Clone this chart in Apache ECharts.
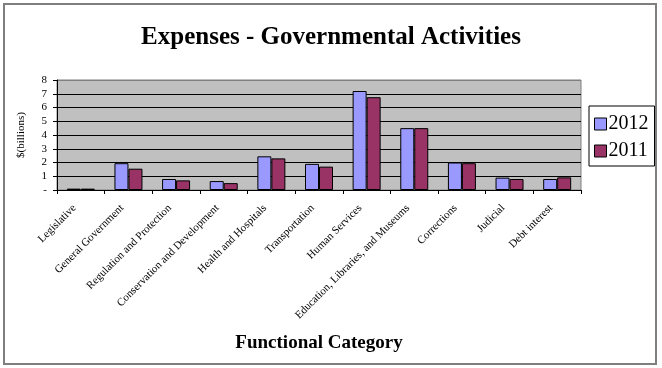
<!DOCTYPE html>
<html>
<head>
<meta charset="utf-8">
<script src="https://cdn.jsdelivr.net/npm/echarts@6/dist/echarts.min.js"></script>
<style>html,body{margin:0;padding:0;background:#fff;}#c{width:662px;height:368px;}</style>
</head>
<body>
<div id="c"></div>
<script>
var categories = ['Legislative','General Government','Regulation and Protection','Conservation and Development','Health and Hospitals','Transportation','Human Services','Education, Libraries, and Museums','Corrections','Judicial','Debt interest'];
var values2012 = [0.1, 1.95, 0.8, 0.65, 2.45, 1.9, 7.2, 4.5, 2.0, 0.9, 0.8];
var values2011 = [0.1, 1.55, 0.7, 0.5, 2.3, 1.7, 6.75, 4.5, 1.95, 0.8, 0.92];
var yTicks = ['-', '1', '2', '3', '4', '5', '6', '7', '8'];

var chart = echarts.init(document.getElementById('c'), null, {renderer: 'canvas'});
var serif = '"Liberation Serif", "DejaVu Serif", serif';
chart.setOption({
  animation: false,
  backgroundColor: '#fff',
  graphic: [{
    type: 'rect', shape: {x: 4, y: 4, width: 652, height: 360},
    style: {fill: 'none', stroke: '#7f7f7f', lineWidth: 2}, z: 100
  }],
  title: {
    text: 'Expenses - Governmental Activities',
    left: 'center', top: 20,
    textStyle: {fontFamily: serif, fontWeight: 'bold', fontSize: 25, color: '#000'}
  },
  legend: {
    orient: 'vertical', left: 589, top: 106, width: 65,
    padding: [8, 6, 5, 5], itemGap: 7,
    borderColor: '#000', borderWidth: 1, backgroundColor: '#fff',
    itemWidth: 12, itemHeight: 12, icon: 'rect',
    itemStyle: {borderColor: '#000', borderWidth: 1},
    textStyle: {fontFamily: serif, fontSize: 20, color: '#000', padding: [0, 0, 0, -3]},
    data: ['2012', '2011']
  },
  grid: {left: 57, right: 81, top: 80, bottom: 178, show: true, backgroundColor: '#c0c0c0', borderColor: '#808080', borderWidth: 1},
  xAxis: {
    type: 'category', data: categories,
    axisLine: {lineStyle: {color: '#000', width: 1}},
    axisTick: {show: true, length: 4, lineStyle: {color: '#000'}},
    axisLabel: {rotate: 45, interval: 0, margin: 10, padding: [0, 9, 0, 0], fontFamily: serif, fontSize: 11, color: '#000'},
    name: 'Functional Category', nameLocation: 'middle', nameGap: 144,
    nameTextStyle: {fontFamily: serif, fontWeight: 'bold', fontSize: 19, color: '#000'}
  },
  yAxis: {
    type: 'value', min: 0, max: 8, interval: 1,
    axisLine: {show: true, lineStyle: {color: '#000'}},
    axisTick: {show: true, length: 4, lineStyle: {color: '#000'}},
    splitLine: {show: true, lineStyle: {color: ['#000','#000','#000','#000','#000','#000','#000','#000','#808080'], width: 1}},
    axisLabel: {fontFamily: serif, fontSize: 11, color: '#000', margin: 10,
      formatter: function (v) { return yTicks[Math.round(v)]; }},
    name: '$(billions)', nameLocation: 'middle', nameGap: 30, nameRotate: 90,
    nameTextStyle: {fontFamily: serif, fontSize: 11, color: '#000'}
  },
  series: [
    {name: '2012', type: 'bar', data: values2012, barWidth: 14, barGap: '0%',
     itemStyle: {color: '#9999ff', borderColor: '#000', borderWidth: 1}},
    {name: '2011', type: 'bar', data: values2011, barWidth: 14, barGap: '0%',
     itemStyle: {color: '#993366', borderColor: '#000', borderWidth: 1}}
  ]
});
</script>
</body>
</html>
